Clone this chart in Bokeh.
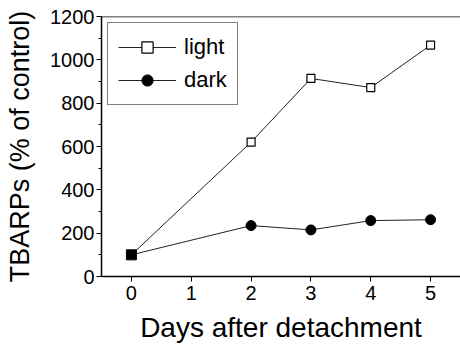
from bokeh.plotting import figure
from bokeh.models import (ColumnDataSource, Range1d, FixedTicker, SingleIntervalTicker,
                          Legend, LegendItem, Span, CDSView, IndexFilter)
from bokeh.embed import file_html
from bokeh.resources import INLINE

days = [0, 2, 3, 4, 5]
light = [100, 620, 914, 872, 1068]
dark = [100, 235, 215, 258, 262]
x_ticks = [0, 1, 2, 3, 4, 5]
x_label = "Days after detachment"
y_label = "TBARPs (% of control)"

FONT = "Liberation Sans"

src = ColumnDataSource(dict(days=days, light=light, dark=dark))
view_ctrl = CDSView(filter=IndexFilter([0]))
view_rest = CDSView(filter=IndexFilter(list(range(1, len(days)))))

p = figure(width=460, height=348, output_backend="svg", toolbar_location=None,
           x_range=Range1d(-0.5, 5.5), y_range=Range1d(0, 1200),
           min_border_left=101, min_border_right=0, min_border_top=16, min_border_bottom=72)
p.outline_line_color = None
p.background_fill_color = "white"
p.border_fill_color = "white"
p.grid.visible = False

# axes
p.xaxis.ticker = FixedTicker(ticks=x_ticks)
p.yaxis.ticker = SingleIntervalTicker(interval=200, num_minor_ticks=2)
for ax in (p.xaxis[0], p.yaxis[0]):
    ax.axis_line_width = 1.5
    ax.axis_line_color = "black"
    ax.major_tick_line_color = "black"
    ax.major_tick_line_width = 1
    ax.major_tick_in = 0
    ax.major_tick_out = 5
    ax.minor_tick_in = 0
    ax.minor_tick_out = 3
    ax.minor_tick_line_color = "black"
    ax.major_label_text_font = FONT
    ax.major_label_text_font_size = "20px"
    ax.major_label_text_color = "black"
    ax.axis_label_text_font = FONT
    ax.axis_label_text_font_style = "normal"
    ax.axis_label_text_color = "black"
p.xaxis.minor_tick_line_color = None
p.xaxis.axis_label = x_label
p.xaxis.axis_label_text_font_size = "28px"
p.xaxis.major_label_standoff = 4
p.xaxis.axis_label_standoff = 9
p.yaxis.axis_label = y_label
p.yaxis.axis_label_text_font_size = "27px"
p.yaxis.major_label_standoff = 2
p.yaxis.axis_label_standoff = 12

p.add_layout(Span(location=1200, dimension="width", line_color="black", line_width=1.5))

# series
dl = p.line("days", "dark", source=src, line_color="#222222", line_width=1)
ll = p.line("days", "light", source=src, line_color="#222222", line_width=1)
ds = p.scatter("days", "dark", source=src, view=view_rest, marker="circle", size=10,
               fill_color="black", line_color="black")
ls = p.scatter("days", "light", source=src, view=view_rest, marker="square", size=8,
               fill_color="white", line_color="black", line_width=1.2)
p.scatter("days", "light", source=src, view=view_ctrl, marker="square", size=10,
          fill_color="black", line_color="black")

legend = Legend(items=[
    LegendItem(label="light", renderers=[ll, ls]),
    LegendItem(label="dark", renderers=[dl, ds]),
], location="top_left")
legend.margin = 6
legend.padding = 10
legend.spacing = 5
legend.glyph_width = 58
legend.glyph_height = 28
legend.label_height = 28
legend.label_standoff = 8
legend.label_text_font = FONT
legend.label_text_font_size = "22px"
legend.label_text_color = "black"
legend.border_line_color = "black"
legend.border_line_width = 1.5
legend.background_fill_alpha = 1
p.add_layout(legend)

open("out.html", "w").write(file_html(p, INLINE))
